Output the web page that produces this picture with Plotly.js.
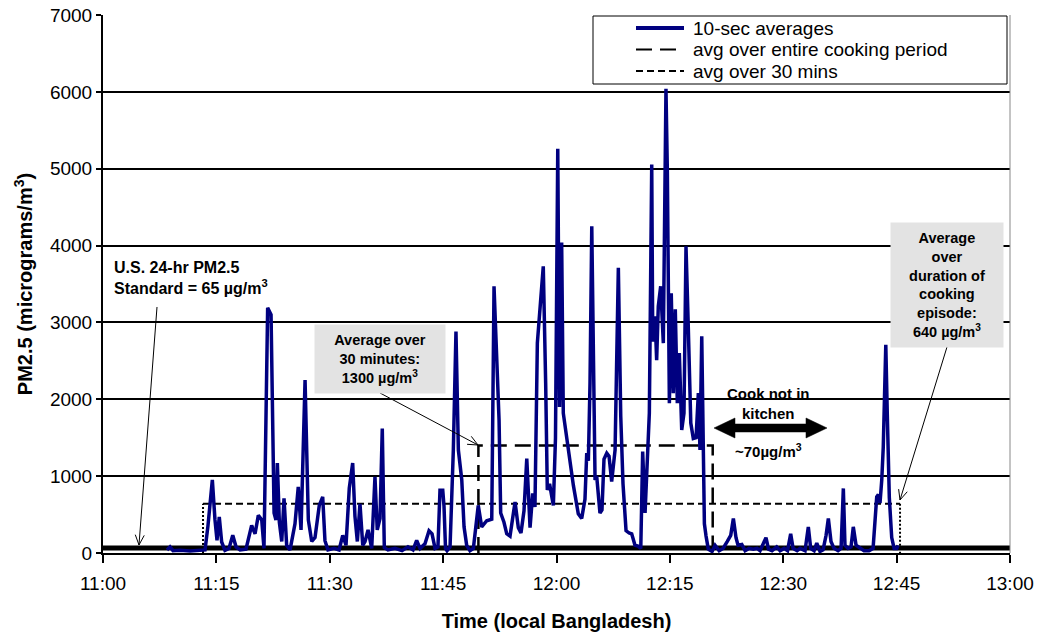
<!DOCTYPE html>
<html>
<head>
<meta charset="utf-8">
<script src="https://cdn.plot.ly/plotly-3.0.1.min.js"></script>
<style>html,body{margin:0;padding:0;background:#fff;}#chart{width:1047px;height:640px;}</style>
</head>
<body>
<div id="chart"></div>
<script>
// ---------------- DATA ----------------
const day = '2000-01-01 ';
const times = ["11:08:28","11:08:52","11:09:16","11:10:11","11:11:31","11:12:50","11:13:30","11:13:53","11:14:28","11:14:49","11:15:05","11:15:23","11:15:42","11:16:08","11:16:40","11:17:10","11:17:36","11:18:08","11:18:55","11:19:40","11:20:07","11:20:33","11:21:00","11:21:18","11:21:47","11:22:14","11:22:38","11:22:53","11:23:04","11:23:20","11:23:39","11:23:57","11:24:18","11:24:45","11:25:24","11:25:50","11:26:12","11:26:44","11:27:10","11:27:37","11:28:03","11:28:37","11:29:04","11:29:22","11:29:46","11:30:34","11:31:14","11:31:43","11:32:09","11:32:35","11:33:02","11:33:20","11:33:39","11:34:00","11:34:22","11:34:40","11:35:04","11:35:33","11:35:59","11:36:17","11:36:39","11:36:57","11:37:13","11:37:42","11:38:38","11:39:34","11:40:21","11:41:01","11:41:30","11:41:57","11:42:36","11:43:08","11:43:32","11:43:56","11:44:19","11:44:35","11:44:57","11:45:07","11:45:19","11:45:31","11:45:55","11:46:21","11:46:42","11:47:01","11:47:28","11:47:46","11:48:07","11:48:33","11:49:00","11:49:39","11:50:06","11:50:46","11:51:26","11:51:44","11:52:05","11:52:24","11:52:37","11:53:03","11:53:25","11:53:51","11:54:31","11:54:57","11:55:18","11:55:42","11:56:04","11:56:30","11:56:51","11:57:09","11:57:28","11:57:49","11:58:15","11:58:34","11:58:47","11:59:05","11:59:22","11:59:35","11:59:52","12:00:10","12:00:24","12:00:41","12:00:54","12:01:34","12:02:14","12:02:53","12:03:20","12:03:46","12:04:00","12:04:13","12:04:26","12:04:40","12:04:52","12:05:06","12:05:19","12:05:32","12:05:45","12:06:01","12:06:17","12:06:39","12:06:57","12:07:18","12:07:45","12:08:11","12:08:30","12:08:48","12:09:12","12:09:36","12:09:57","12:10:23","12:10:47","12:11:09","12:11:24","12:11:43","12:12:01","12:12:17","12:12:36","12:12:44","12:13:02","12:13:15","12:13:28","12:13:47","12:14:08","12:14:29","12:14:40","12:14:56","12:15:11","12:15:27","12:15:43","12:15:59","12:16:15","12:16:34","12:16:52","12:17:08","12:17:26","12:17:46","12:18:06","12:18:28","12:18:46","12:18:59","12:19:13","12:19:26","12:19:34","12:19:47","12:20:05","12:20:35","12:20:59","12:21:31","12:22:02","12:22:36","12:23:03","12:23:24","12:23:45","12:24:01","12:24:31","12:24:57","12:25:28","12:26:02","12:26:32","12:26:56","12:27:22","12:27:43","12:28:03","12:28:31","12:29:08","12:29:35","12:30:07","12:30:34","12:30:59","12:31:18","12:31:50","12:32:14","12:32:53","12:33:19","12:33:38","12:34:05","12:34:26","12:34:52","12:35:16","12:35:40","12:35:58","12:36:19","12:36:43","12:37:15","12:37:39","12:37:57","12:38:10","12:38:34","12:38:58","12:39:16","12:39:38","12:40:10","12:40:41","12:41:21","12:41:53","12:42:22","12:42:35","12:42:48","12:43:02","12:43:14","12:43:34","12:43:46","12:44:02","12:44:21","12:44:40","12:45:01","12:45:11"];
const pm25 = [40,80,30,35,25,30,40,350,950,430,165,470,143,35,60,230,80,40,50,360,250,490,430,60,3190,3100,520,430,1170,400,150,710,100,40,380,860,300,2250,430,150,200,620,730,160,40,60,40,230,100,845,1170,480,150,640,100,150,300,60,990,300,450,1620,70,40,60,30,80,40,165,60,120,290,250,60,80,818,818,610,60,30,80,1340,2880,1340,950,340,100,30,60,620,340,420,440,3470,2425,1730,520,400,250,220,665,330,260,550,1230,330,775,600,2730,3165,3730,2210,820,900,730,620,1500,5260,1900,4040,1820,1340,880,510,450,700,1300,1200,2210,4250,2210,950,1000,775,520,560,1220,1300,1260,930,1340,3710,1780,900,290,260,250,100,90,60,1320,520,1210,1820,5055,2750,3080,2510,3210,3470,2730,6040,4950,1950,3380,2080,3170,1950,2600,1600,1820,3990,2950,1690,1490,1500,2080,1340,2820,1250,380,220,50,20,100,30,60,150,230,450,200,100,110,30,60,50,60,30,130,200,50,30,80,30,60,30,250,60,30,60,30,340,60,30,130,20,40,230,450,150,60,30,60,840,100,60,80,340,100,60,30,30,60,730,760,650,950,1380,2710,1800,720,200,60,60,100];

// average over the 30-minute window (long dash)
const avg30Start = '11:49:40';
const avg30End = '12:20:40';
const avg30Value = 1400;
// average over whole cooking episode (short dash)
const avgCookStart = '11:13:14';
const avgCookEnd = '12:45:27';
const avgCookValue = 640;
// US 24-hr standard
const standardValue = 65;
const axisStart = '11:00:00';
const axisEnd = '13:00:00';

const seriesNames = ['10-sec averages', 'avg over entire cooking period', 'avg over 30 mins'];
const tickLabels = ['11:00','11:15','11:30','11:45','12:00','12:15','12:30','12:45','13:00'];

// ---------------- BUILD ----------------
const T = s => day + s;
const FONT = 'Liberation Sans, Arial, sans-serif';
const NAVY = '#000080';

const traces = [
  { // standard line
    x: [T(axisStart), T(axisEnd)], y: [standardValue, standardValue],
    mode: 'lines', line: {color: '#000', width: 5}, showlegend: false, hoverinfo: 'skip'
  },
  { // 30-min average horizontal & verticals (long dash)
    x: [T(avg30Start), T(avg30Start), T(avg30End), T(avg30End)],
    y: [0, avg30Value, avg30Value, 0],
    mode: 'lines', name: seriesNames[1], line: {color: '#000', width: 2.5, dash: '16px,8px'}, showlegend: false
  },
  { // cooking-period average horizontal (short dash)
    x: [T(avgCookStart), T(avgCookEnd)], y: [avgCookValue, avgCookValue],
    mode: 'lines', name: seriesNames[2], line: {color: '#000', width: 2, dash: '7px,4px'}, showlegend: false
  },
  { // dotted verticals at episode ends
    x: [T(avgCookStart), T(avgCookStart), null, T(avgCookEnd), T(avgCookEnd)],
    y: [0, avgCookValue, null, avgCookValue, 0],
    mode: 'lines', line: {color: '#000', width: 2, dash: '2px,2px'}, showlegend: false, hoverinfo: 'skip'
  },
  {
    x: times.map(T), y: pm25, mode: 'lines', name: seriesNames[0],
    line: {color: NAVY, width: 3.5}, showlegend: false
  }
];

// pixel -> paper helpers (plot area: x 103..1010, y 15..553)
const L = 103, R = 1010, TOP = 15, BOT = 553;
const px = x => (x - L) / (R - L);
const py = y => (BOT - y) / (BOT - TOP);
const P = (x, y) => px(x).toFixed(5) + ',' + py(y).toFixed(5);

// thin arrow with open V head, from tail (x0,y0) to tip (x1,y1) in pixels
function thinArrow(x0, y0, x1, y1) {
  const dx = x1 - x0, dy = y1 - y0, n = Math.hypot(dx, dy);
  const ux = dx / n, uy = dy / n, len = 10, half = 4.5;
  const lx = x1 - ux * len - uy * half, ly = y1 - uy * len + ux * half;
  const rx = x1 - ux * len + uy * half, ry = y1 - uy * len - ux * half;
  return {type: 'path', xref: 'paper', yref: 'paper', layer: 'above',
    path: 'M' + P(x0, y0) + 'L' + P(x1, y1) + 'M' + P(lx, ly) + 'L' + P(x1, y1) + 'L' + P(rx, ry),
    line: {color: '#000', width: 1}};
}
// thick double-headed arrow polygon
function doubleArrow(xl, xr, yc) {
  const hl = 21, hh = 10, sh = 4;
  const pts = [[xl, yc], [xl + hl, yc - hh], [xl + hl, yc - sh], [xr - hl, yc - sh], [xr - hl, yc - hh],
    [xr, yc], [xr - hl, yc + hh], [xr - hl, yc + sh], [xl + hl, yc + sh], [xl + hl, yc + hh]];
  return {type: 'path', xref: 'paper', yref: 'paper', layer: 'above',
    path: 'M' + pts.map(p => P(p[0], p[1])).join('L') + 'Z', fillcolor: '#000', line: {color: '#000', width: 0.5}};
}

const legendY = [28, 49.5, 71];
const shapes = [
  {type: 'line', xref: 'paper', yref: 'paper', x0: 1, x1: 1, y0: 0, y1: 1, line: {color: '#888', width: 1}},
  // legend box
  {type: 'rect', xref: 'paper', yref: 'paper', x0: px(593), x1: px(1007), y0: py(84), y1: py(16),
   fillcolor: '#fff', line: {color: '#000', width: 1}, layer: 'above'},
  {type: 'line', xref: 'paper', yref: 'paper', x0: px(636), x1: px(684), y0: py(legendY[0]), y1: py(legendY[0]),
   line: {color: NAVY, width: 4}, layer: 'above'},
  {type: 'line', xref: 'paper', yref: 'paper', x0: px(636), x1: px(684), y0: py(legendY[1]), y1: py(legendY[1]),
   line: {color: '#000', width: 2, dash: '16px,8px'}, layer: 'above'},
  {type: 'line', xref: 'paper', yref: 'paper', x0: px(636), x1: px(684), y0: py(legendY[2]), y1: py(legendY[2]),
   line: {color: '#000', width: 2, dash: '7px,4px'}, layer: 'above'},
  thinArrow(157, 307, 139, 545),
  thinArrow(380, 393, 478, 445),
  thinArrow(947, 347, 900, 500),
  doubleArrow(714, 827, 428)
];

const bold = size => ({family: FONT, size: size, color: '#000'});
const annotations = [
  // legend texts
  ...seriesNames.map((s, i) => ({xref: 'paper', yref: 'paper', x: px(691), y: py(legendY[i]), xanchor: 'left',
    yanchor: 'middle', showarrow: false, text: s, font: {family: FONT, size: 19, color: '#000'}})),
  // standard label
  {xref: 'paper', yref: 'paper', x: px(112), y: py(278), xanchor: 'left', yanchor: 'middle', align: 'left', showarrow: false,
   text: '<b>U.S. 24-hr PM2.5<br>Standard = 65 µg/m<sup>3</sup></b>', font: bold(16)},
  // 30-minute box
  {xref: 'paper', yref: 'paper', x: px(380), y: py(359), xanchor: 'center', yanchor: 'middle', showarrow: false,
   text: '<b>Average over<br>30 minutes:<br>1300 µg/m<sup>3</sup></b>', font: bold(14.5),
   bgcolor: '#e3e3e3', width: 126, height: 64, borderpad: 2},
  // episode box
  {xref: 'paper', yref: 'paper', x: px(947), y: py(285), xanchor: 'center', yanchor: 'middle', showarrow: false,
   text: '<b>Average<br>over<br>duration of<br>cooking<br>episode:<br>640 µg/m<sup>3</sup></b>', font: bold(14.5),
   bgcolor: '#e3e3e3', width: 108, height: 120, borderpad: 2},
  // cook not in kitchen
  {xref: 'paper', yref: 'paper', x: px(768), y: py(403), xanchor: 'center', yanchor: 'middle', showarrow: false,
   text: '<b>Cook not in<br>kitchen</b>', font: bold(15)},
  {xref: 'paper', yref: 'paper', x: px(768), y: py(451), xanchor: 'center', yanchor: 'middle', showarrow: false,
   text: '<b>~70µg/m<sup>3</sup></b>', font: bold(15)}
];

const tickVals = tickLabels.map(t => T(t + ':00'));

const layout = {
  width: 1047, height: 640,
  margin: {l: L, r: 1047 - R, t: TOP, b: 640 - BOT},
  paper_bgcolor: '#fff', plot_bgcolor: '#fff',
  font: {family: FONT, color: '#000'},
  showlegend: false,
  xaxis: {
    type: 'date', range: [T(axisStart), T(axisEnd)],
    tickvals: tickVals, ticktext: tickLabels,
    ticks: 'outside', ticklen: 8, tickwidth: 2, tickcolor: '#000', ticklabelstandoff: 4,
    showline: true, linecolor: '#000', linewidth: 2, showgrid: false, zeroline: false,
    tickfont: {family: FONT, size: 19, color: '#000'},
    title: {text: '<b>Time (local Bangladesh)</b>', font: {family: FONT, size: 20, color: '#000'}, standoff: 21}
  },
  yaxis: {
    range: [0, 7000], dtick: 1000, tick0: 0,
    ticks: 'outside', ticklen: 5, tickwidth: 2, tickcolor: '#000',
    showline: true, linecolor: '#000', linewidth: 2,
    showgrid: true, gridcolor: '#000', gridwidth: 2, zeroline: false,
    tickfont: {family: FONT, size: 19, color: '#000'},
    title: {text: '<b>PM2.5 (micrograms/m<sup>3</sup>)</b>', font: {family: FONT, size: 20, color: '#000'}, standoff: 12}
  },
  shapes: shapes,
  annotations: annotations
};

Plotly.newPlot('chart', traces, layout, {staticPlot: true, displayModeBar: false});
</script>
</body>
</html>
